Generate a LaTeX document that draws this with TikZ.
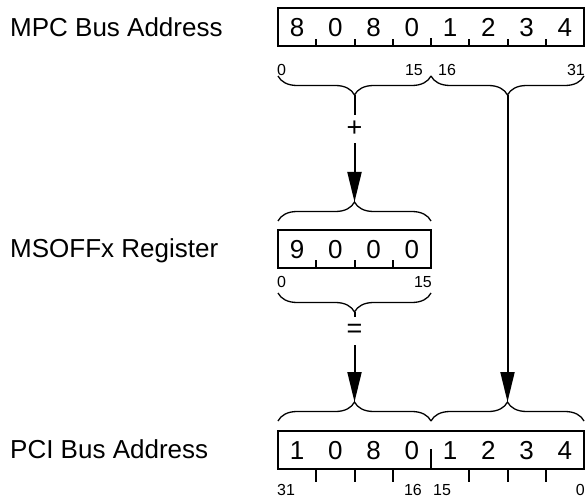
\documentclass[tikz,border=0pt]{standalone}
\usepackage{fontspec}
\setmainfont{Liberation Sans}
\usetikzlibrary{arrows.meta,decorations.pathreplacing}
\begin{document}
\begin{tikzpicture}[x=1pt,y=-1pt,
  lbl/.style={anchor=base west,inner sep=0pt,font=\fontsize{26}{30}\selectfont},
  dig/.style={anchor=base,inner sep=0pt,font=\fontsize{26}{30}\selectfont},
  numw/.style={anchor=base west,inner sep=0pt,font=\fontsize{16}{18}\selectfont},
  nume/.style={anchor=base east,inner sep=0pt,font=\fontsize{16}{18}\selectfont},
  op/.style={inner sep=0pt,minimum width=16pt,minimum height=28pt,fill=white,font=\fontsize{27}{30}\selectfont},
  regbox/.style={draw,line width=2pt,minimum height=38pt,inner sep=0pt,outer sep=0pt},
  tick/.style={line width=2pt},
  brc/.style={line width=1.3pt,decorate,decoration={brace,amplitude=19pt}},
  conn/.style={line width=2pt},
  arr/.style={line width=2pt,-{Triangle[length=30pt,width=14pt]}}
]
\useasboundingbox (0,0) rectangle (586,497);

% labels
\node[lbl] (l1) at (10,37) {MPC Bus Address};
\node[lbl] (l2) at (10,257) {MSOFFx Register};
\node[lbl] (l3) at (10,458) {PCI Bus Address};

% boxes
\node[regbox,minimum width=306pt] (mpc) at (431,27) {};
\node[regbox,minimum width=153pt] (msoff) at (354.5,249) {};
\node[regbox,minimum width=306pt] (pci) at (431,450) {};

% MPC digits
\node[dig] (a1) at (297.1,36.3) {8};
\node[dig] (a2) at (335.4,36.3) {0};
\node[dig] (a3) at (373.6,36.3) {8};
\node[dig] (a4) at (411.9,36.3) {0};
\node[dig] (a5) at (450.1,36.3) {1};
\node[dig] (a6) at (488.4,36.3) {2};
\node[dig] (a7) at (526.6,36.3) {3};
\node[dig] (a8) at (564.9,36.3) {4};
\foreach \x in {316.25,354.5,392.75,469.25,507.5,545.75}{\draw[tick] (\x,46) -- (\x,39);}
\draw[tick] (431,46) -- (431,38);

% MSOFFx digits
\node[dig] (b1) at (297.1,258.3) {9};
\node[dig] (b2) at (335.4,258.3) {0};
\node[dig] (b3) at (373.6,258.3) {0};
\node[dig] (b4) at (411.9,258.3) {0};
\foreach \x in {316.25,354.5,392.75}{\draw[tick] (\x,268) -- (\x,260);}

% PCI digits
\node[dig] (c1) at (297.1,459.3) {1};
\node[dig] (c2) at (335.4,459.3) {0};
\node[dig] (c3) at (373.6,459.3) {8};
\node[dig] (c4) at (411.9,459.3) {0};
\node[dig] (c5) at (450.1,459.3) {1};
\node[dig] (c6) at (488.4,459.3) {2};
\node[dig] (c7) at (526.6,459.3) {3};
\node[dig] (c8) at (564.9,459.3) {4};
\foreach \x in {316.25,354.5,392.75,469.25,507.5,545.75}{\draw[tick] (\x,469) -- (\x,482);}
\draw[tick] (431,469) -- (431,449);

% bit numbers
\node[numw] (n1) at (277,75.5) {0};
\node[nume] (n2) at (423,75.5) {15};
\node[numw] (n3) at (438,75.5) {16};
\node[nume] (n4) at (585,75.5) {31};
\node[numw] (n5) at (277,287) {0};
\node[nume] (n6) at (432,287) {15};
\node[numw] (n7) at (277,495) {31};
\node[nume] (n8) at (422,495) {16};
\node[numw] (n9) at (433,495) {15};
\node[nume] (n10) at (585,495) {0};

% braces
\draw[brc] (431,76) -- (278,76);
\draw[brc] (584,76) -- (431,76);
\coordinate (t1) at (354.5,95);
\coordinate (t2) at (507.5,95);
\draw[brc] (278,221) -- (431,221);
\coordinate (m1) at (354.5,202);
\draw[brc] (431,293) -- (278,293);
\coordinate (m2) at (354.5,312);
\draw[brc] (278,421) -- (431,421);
\draw[brc] (431,421) -- (584,421);
\coordinate (p1) at (354.5,402);
\coordinate (p2) at (507.5,402);

% operators and connectors
\node[op] (plus) at (354.5,129) {+};
\node[op] (eq) at (354.5,331) {=};
\draw[conn] (t1) -- (plus);
\draw[arr] (plus) -- (m1);
\draw[conn] (m2) -- (eq);
\draw[arr] (eq) -- (p1);
\draw[arr] (t2) -- (p2);
\end{tikzpicture}
\end{document}
